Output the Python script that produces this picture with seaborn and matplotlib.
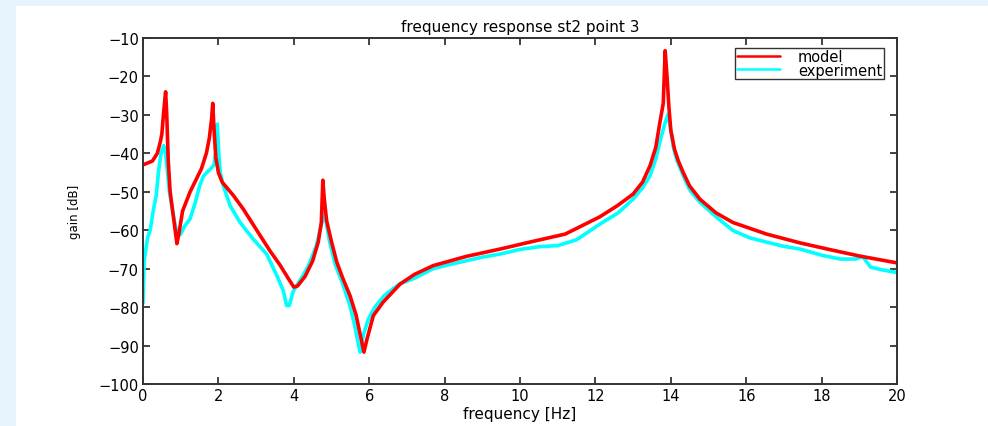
import numpy as np
import pandas as pd
import matplotlib
matplotlib.use("Agg")
import matplotlib.pyplot as plt
from matplotlib.patches import Rectangle
from matplotlib.lines import Line2D
import seaborn as sns

# ---- data ----
model_freq = [0, 0.25, 0.38, 0.46, 0.5, 0.55, 0.6, 0.63, 0.67, 0.72, 0.8, 0.9, 0.95, 1.05,
              1.25, 1.4, 1.55, 1.68, 1.76, 1.82, 1.85, 1.88, 1.93, 2.0, 2.1, 2.4, 2.66, 3.05,
              3.37, 3.63, 3.85, 4.0, 4.1, 4.3, 4.5, 4.65, 4.73, 4.77, 4.81, 4.87, 5.0, 5.14,
              5.3, 5.49, 5.65, 5.78, 5.86, 5.95, 6.11, 6.37, 6.82, 7.2, 7.7, 8.58, 9.47, 10.3,
              11.2, 12.12, 12.6, 13.0, 13.25, 13.45, 13.6, 13.71, 13.8, 13.85, 13.9, 13.95,
              14.0, 14.1, 14.2, 14.33, 14.5, 14.77, 15.2, 15.65, 16.54, 17.43, 18.2, 19.0, 20.0]
model_gain = [-43, -42, -40, -37, -35, -29, -24, -30, -42, -50, -56, -63.5, -61, -55,
              -50, -47, -44, -40, -36, -31, -27, -33, -41, -45, -47.5, -51, -54.5, -60.5,
              -65.4, -69, -72.5, -74.8, -74.5, -72, -68, -63, -58, -47, -52, -57.5, -63, -68.3,
              -72.5, -77, -82, -88, -91.7, -88, -82.2, -78.7, -74, -71.5, -69.2, -66.8, -64.9, -63,
              -61, -56.5, -53.5, -50.6, -47.5, -43.2, -38.5, -32, -27, -13.3, -20, -28,
              -34, -39, -42, -45, -48.5, -51.9, -55.5, -58, -61, -63.3, -65, -66.7, -68.5]

exp_freq = [0, 0.03, 0.06, 0.12, 0.19, 0.27, 0.35, 0.42, 0.48, 0.55, 0.6, 0.65, 0.7, 0.76,
            0.84, 0.92, 1.0, 1.1, 1.25, 1.38, 1.5, 1.6, 1.69, 1.8, 1.88, 1.93, 1.97, 2.01,
            2.05, 2.13, 2.31, 2.57, 2.92, 3.28, 3.55, 3.72, 3.81, 3.88, 3.98, 4.08, 4.2, 4.4,
            4.6, 4.72, 4.8, 4.86, 4.95, 5.1, 5.3, 5.5, 5.62, 5.72, 5.76, 5.85, 5.98, 6.15,
            6.4, 6.8, 7.2, 7.7, 8.1, 8.6, 9.0, 9.47, 10.0, 10.5, 11.0, 11.5, 12.12, 12.6,
            13.0, 13.25, 13.45, 13.6, 13.71, 13.85, 13.93, 14.0, 14.06, 14.15, 14.33, 14.5,
            14.77, 15.2, 15.65, 16.1, 16.54, 17.0, 17.43, 18.0, 18.5, 18.9, 19.05, 19.1,
            19.3, 19.6, 20.0]
exp_gain = [-79, -68, -66, -62, -60, -55, -51, -44, -40, -38, -40, -45, -50, -53.6,
            -58, -61.5, -61, -59, -57, -53, -48.5, -46, -45, -44, -43, -40, -32.4, -40,
            -45, -48.4, -53.6, -57.9, -62.3, -66.2, -71.8, -75.7, -79.6, -79.6, -76, -74.4, -72.5, -69,
            -64, -59, -55.8, -58, -63, -69, -74, -80, -85, -90, -91.7, -87, -83.1, -80,
            -77, -74, -72.5, -70, -69, -67.9, -67, -66.2, -65, -64.3, -64, -62.5, -58.4, -55.5,
            -51.9, -49, -45.8, -41.5, -37, -32, -29.8, -34, -38, -41.5, -45.8, -49.5,
            -52.7, -56.5, -60.1, -62, -63.1, -64.2, -64.9, -66.5, -67.5, -67.5, -67, -67,
            -69.6, -70.3, -71]

series_names = ["model", "experiment"]
title_text = "frequency response st2 point 3"
x_label = "frequency [Hz]"
y_label = "gain [dB]"
x_ticks = [0, 2, 4, 6, 8, 10, 12, 14, 16, 18, 20]
y_ticks = [-100, -90, -80, -70, -60, -50, -40, -30, -20, -10]

# ---- build frame ----
df = pd.concat([
    pd.DataFrame({"freq": exp_freq, "gain": exp_gain, "series": series_names[1]}),
    pd.DataFrame({"freq": model_freq, "gain": model_gain, "series": series_names[0]}),
], ignore_index=True)

sns.set_theme(style="white")
plt.rcParams["font.family"] = ["DejaVu Sans"]

fig = plt.figure(figsize=(9.88, 4.27), dpi=100, facecolor="white")
# light blue frame band (left + top)
fig.patches.append(Rectangle((0, 0), 16 / 988, 1, transform=fig.transFigure,
                             facecolor="#e8f4fd", edgecolor="none", zorder=-10))
fig.patches.append(Rectangle((0, 1 - 7 / 427), 1, 7 / 427, transform=fig.transFigure,
                             facecolor="#e8f4fd", edgecolor="none", zorder=-10))

ax = fig.add_axes([143 / 988, 1 - 385 / 427, (897 - 143) / 988, (385 - 39) / 427])
ax.set_facecolor("white")

palette = {"model": "#ff0000", "experiment": "#00ffff"}
sns.lineplot(data=df, x="freq", y="gain", hue="series", hue_order=["experiment", "model"],
             palette=palette, estimator=None, sort=False, linewidth=2.6, ax=ax, legend=False)

ax.set_xlim(0, 20)
ax.set_ylim(-100, -10)
ax.set_xticks(x_ticks)
ax.set_yticks(y_ticks)
ax.set_xticklabels([str(t) for t in x_ticks])
ax.set_yticklabels([("\u2212" + str(abs(t))) if t < 0 else str(t) for t in y_ticks])
ax.tick_params(direction="in", length=5, width=1.2, colors="#222222", labelsize=10.5,
               top=True, right=True, bottom=True, left=True, pad=3, labelcolor="black")
for s in ax.spines.values():
    s.set_visible(True)
    s.set_color("#333333")
    s.set_linewidth(1.4)

ax.set_title(title_text, fontsize=11, pad=5, color="black")
ax.set_xlabel(x_label, fontsize=11, labelpad=2, color="black")
ax.set_ylabel(y_label, fontsize=8.5, labelpad=13, color="black")

handles = [Line2D([], [], color="#ff0000", lw=1.8), Line2D([], [], color="#00ffff", lw=1.8)]
leg = ax.legend(handles, series_names, loc="upper right", bbox_to_anchor=(0.988, 0.985),
                fontsize=10.5, frameon=True, fancybox=False, handlelength=3.0,
                borderpad=0.1, labelspacing=-0.1, handletextpad=1.2, borderaxespad=0.3,
                labelcolor="black")
leg.get_frame().set_edgecolor("black")
leg.get_frame().set_linewidth(1.0)

fig.savefig("out.png", dpi=100, facecolor="white")
